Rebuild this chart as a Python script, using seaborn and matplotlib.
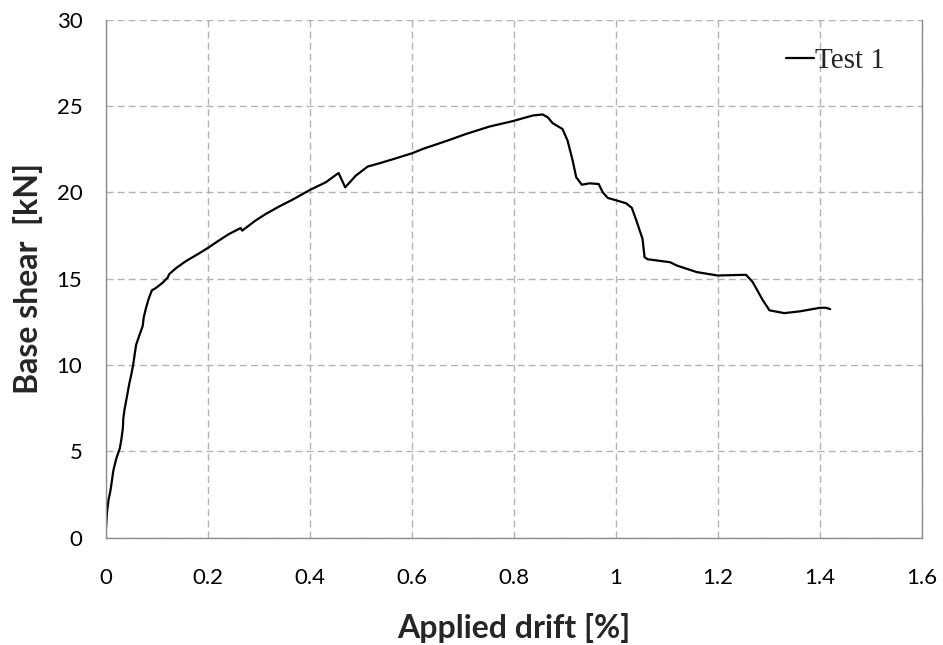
import matplotlib
matplotlib.use("Agg")
import matplotlib.pyplot as plt
import seaborn as sns
import pandas as pd

drift = [0.0, 0.002, 0.005, 0.008, 0.010, 0.013, 0.015, 0.020, 0.024, 0.027, 0.030, 0.033, 0.034, 0.036,
         0.041, 0.046, 0.049, 0.053, 0.056, 0.059, 0.066, 0.072, 0.074, 0.079, 0.084, 0.090, 0.098, 0.111,
         0.121, 0.124, 0.137, 0.157, 0.182, 0.201, 0.221, 0.241, 0.264, 0.267, 0.293, 0.313, 0.339, 0.365,
         0.400, 0.431, 0.456, 0.469, 0.490, 0.513, 0.536, 0.562, 0.600, 0.621, 0.647, 0.670, 0.706, 0.752,
         0.797, 0.837, 0.856, 0.866, 0.876, 0.895, 0.905, 0.915, 0.922, 0.933, 0.948, 0.966, 0.974, 0.984,
         1.000, 1.020, 1.031, 1.040, 1.052, 1.056, 1.062, 1.080, 1.106, 1.119, 1.158, 1.199, 1.255, 1.268,
         1.288, 1.301, 1.330, 1.360, 1.400, 1.412, 1.420]
shear = [0.56, 1.46, 2.2, 2.6, 2.96, 3.6, 3.96, 4.56, 4.9, 5.16, 5.66, 6.3, 6.9, 7.36,
         8.16, 8.96, 9.36, 9.96, 10.56, 11.16, 11.76, 12.26, 12.76, 13.36, 13.86, 14.32, 14.46, 14.76,
         15.06, 15.26, 15.6, 16.02, 16.45, 16.8, 17.2, 17.58, 17.93, 17.78, 18.36, 18.74, 19.17, 19.56,
         20.14, 20.58, 21.12, 20.29, 20.97, 21.49, 21.68, 21.91, 22.26, 22.51, 22.77, 23.0, 23.38, 23.81,
         24.12, 24.45, 24.51, 24.35, 24.0, 23.67, 23.0, 21.84, 20.87, 20.44, 20.52, 20.48, 20.0, 19.67,
         19.54, 19.36, 19.1, 18.36, 17.3, 16.24, 16.12, 16.05, 15.95, 15.76, 15.38, 15.18, 15.22, 14.8,
         13.74, 13.16, 13.0, 13.1, 13.31, 13.31, 13.23]
series_name = "Test 1"
x_ticks = [0, 0.2, 0.4, 0.6, 0.8, 1.0, 1.2, 1.4, 1.6]
x_tick_labels = ["0", "0.2", "0.4", "0.6", "0.8", "1", "1.2", "1.4", "1.6"]
y_ticks = [0, 5, 10, 15, 20, 25, 30]
x_label = "Applied drift [%]"
y_label = "Base shear  [kN]"

sns.set_style("white")
plt.rcParams['font.family'] = ['Lato', 'DejaVu Sans']

df = pd.DataFrame({"drift": drift, "shear": shear, "series": series_name})

W, H = 943, 645
ax_l, ax_r, ax_b, ax_t = 106, 922, 537.5, 19.7
fig = plt.figure(figsize=(W / 100, H / 100), dpi=100)
ax = fig.add_axes([ax_l / W, (H - ax_b) / H, (ax_r - ax_l) / W, (ax_b - ax_t) / H])

sns.lineplot(data=df, x="drift", y="shear", hue="series", palette=["black"],
             estimator=None, sort=False, linewidth=1.6, ax=ax)

ax.set_xlim(0, 1.6)
ax.set_ylim(0, 30)
ax.set_xticks(x_ticks)
ax.set_xticklabels(x_tick_labels)
ax.set_yticks(y_ticks)
ax.grid(True, linestyle=(0, (5, 3)), color="#b3b3b3", linewidth=1.0)
ax.set_axisbelow(True)

for side in ["left", "bottom", "right"]:
    ax.spines[side].set_color("#8c8c8c")
    ax.spines[side].set_linewidth(1.0)
ax.spines["top"].set_visible(False)

ax.tick_params(axis="both", direction="out", length=5, width=1.0, color="#8c8c8c",
               labelsize=16, labelcolor="black")
ax.tick_params(axis="x", pad=17)
ax.tick_params(axis="y", pad=12)

ax.set_xlabel(x_label, fontsize=23, fontweight="bold")
ax.set_ylabel(y_label, fontsize=23, fontweight="bold")
ax.xaxis.label.set_va("center")
ax.yaxis.label.set_va("center")
ax.xaxis.set_label_coords(0.5, ((H - 628) - (H - ax_b)) / (ax_b - ax_t))
ax.yaxis.set_label_coords((28 - ax_l) / (ax_r - ax_l), 0.5)

leg = ax.legend(loc="center left", bbox_to_anchor=(786 / W, (H - 61) / H),
                bbox_transform=fig.transFigure, frameon=False, borderpad=0, borderaxespad=0,
                handlelength=0.95, handletextpad=0.05,
                prop={"family": "Liberation Serif", "size": 21})
for h in leg.get_lines():
    h.set_linewidth(1.6)

fig.savefig("out.png", dpi=100)
